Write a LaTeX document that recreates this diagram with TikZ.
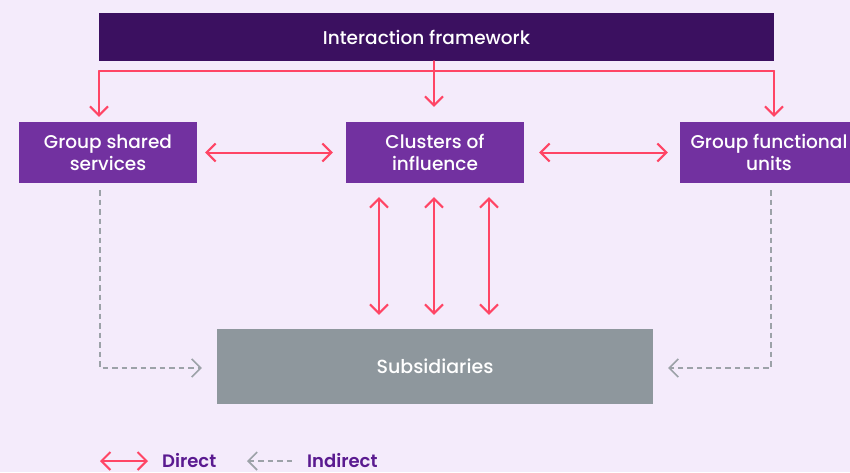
\documentclass[tikz,border=0pt]{standalone}
\usepackage{fontspec}
\setmainfont{Poppins}[UprightFont=* Medium, BoldFont=* SemiBold]
\usetikzlibrary{arrows.meta,calc}
\definecolor{bgc}{HTML}{F4EBFB}
\definecolor{darkp}{HTML}{3B1060}
\definecolor{midp}{HTML}{7231A0}
\definecolor{greyb}{HTML}{8E979D}
\definecolor{redl}{HTML}{FF4565}
\definecolor{greyl}{HTML}{9CA2A8}
\definecolor{legp}{HTML}{5A1A90}
\tikzset{
  box/.style={fill=midp, text=white, minimum width=178pt, minimum height=61pt, align=center, inner sep=0pt, font=\fontsize{18.5}{22}\selectfont},
  vtip/.tip={Straight Barb[length=9pt,width=18pt,line width=2pt]},
  direct/.style={draw=redl, line width=2pt, line cap=round},
  indirect/.style={draw=greyl, line width=1.6pt, dash pattern=on 5.5pt off 4pt},
  gtip/.tip={Straight Barb[length=9pt,width=18pt,line width=1.6pt]},
  legtext/.style={text=legp, anchor=base west, inner sep=0pt, font=\fontsize{18}{22}\selectfont\bfseries}
}
\begin{document}
\begin{tikzpicture}[x=1pt,y=-1pt]
\useasboundingbox[fill=bgc] (0,0) rectangle (850,472);
% boxes
\node[fill=darkp, text=white, minimum width=675pt, minimum height=48pt, inner sep=0pt, font=\fontsize{18.5}{22}\selectfont] (frame) at (436.5,37) {Interaction framework\hspace*{20pt}\null};
\node[box] (gss) at (108,152.5) {Group shared\\services};
\node[box] (coi) at (435,152.5) {Clusters of\\influence};
\node[box] (gfu) at (769,152.5) {Group functional\\units};
\node[fill=greyb, text=white, minimum width=436pt, minimum height=75pt, inner sep=0pt, font=\fontsize{19}{22}\selectfont] (subs) at (435,366.5) {Subsidiaries};
% top distribution
\coordinate (hl) at (99,71);
\coordinate (hr) at (774,71);
\draw[direct] (hl) -- (hr);
\draw[direct,-vtip] (hl) -- ($(hl |- gss.north)+(0,-5)$);
\draw[direct,-vtip] (hr) -- ($(hr |- gfu.north)+(0,-5)$);
\draw[direct,-vtip] (frame.south -| 434,0) -- ($(434,0 |- coi.north)+(0,-15)$);
% horizontal double arrows
\draw[direct,vtip-vtip] ($(gss.east)+(8,0)$) -- ($(coi.west)+(-13,0)$);
\draw[direct,vtip-vtip] ($(coi.east)+(15,0)$) -- ($(gfu.west)+(-12,0)$);
% vertical double arrows
\foreach \dx in {-56,-1,54}{
  \draw[direct,vtip-vtip] ($(coi.south)+(\dx,14)$) -- ($(coi.south |- subs.north)+(\dx,-14)$);
}
% indirect
\coordinate (dl) at (100,190);
\coordinate (dr) at (771,190);
\draw[indirect,-gtip] (dl) |- ($(subs.west)+(-15,1.5)$);
\draw[indirect,-gtip] (dr) |- ($(subs.east)+(15,1.5)$);
% legend
\coordinate (l1a) at (100,461);
\coordinate (l1b) at (148,461);
\draw[direct,vtip-vtip] (l1a) -- (l1b);
\node[legtext] (ld) at (162,467) {Direct};
\coordinate (l2a) at (247,461);
\coordinate (l2b) at (296,461);
\draw[indirect,gtip-] (l2a) -- (l2b);
\node[legtext] (li) at (307,467) {Indirect};
\end{tikzpicture}
\end{document}
